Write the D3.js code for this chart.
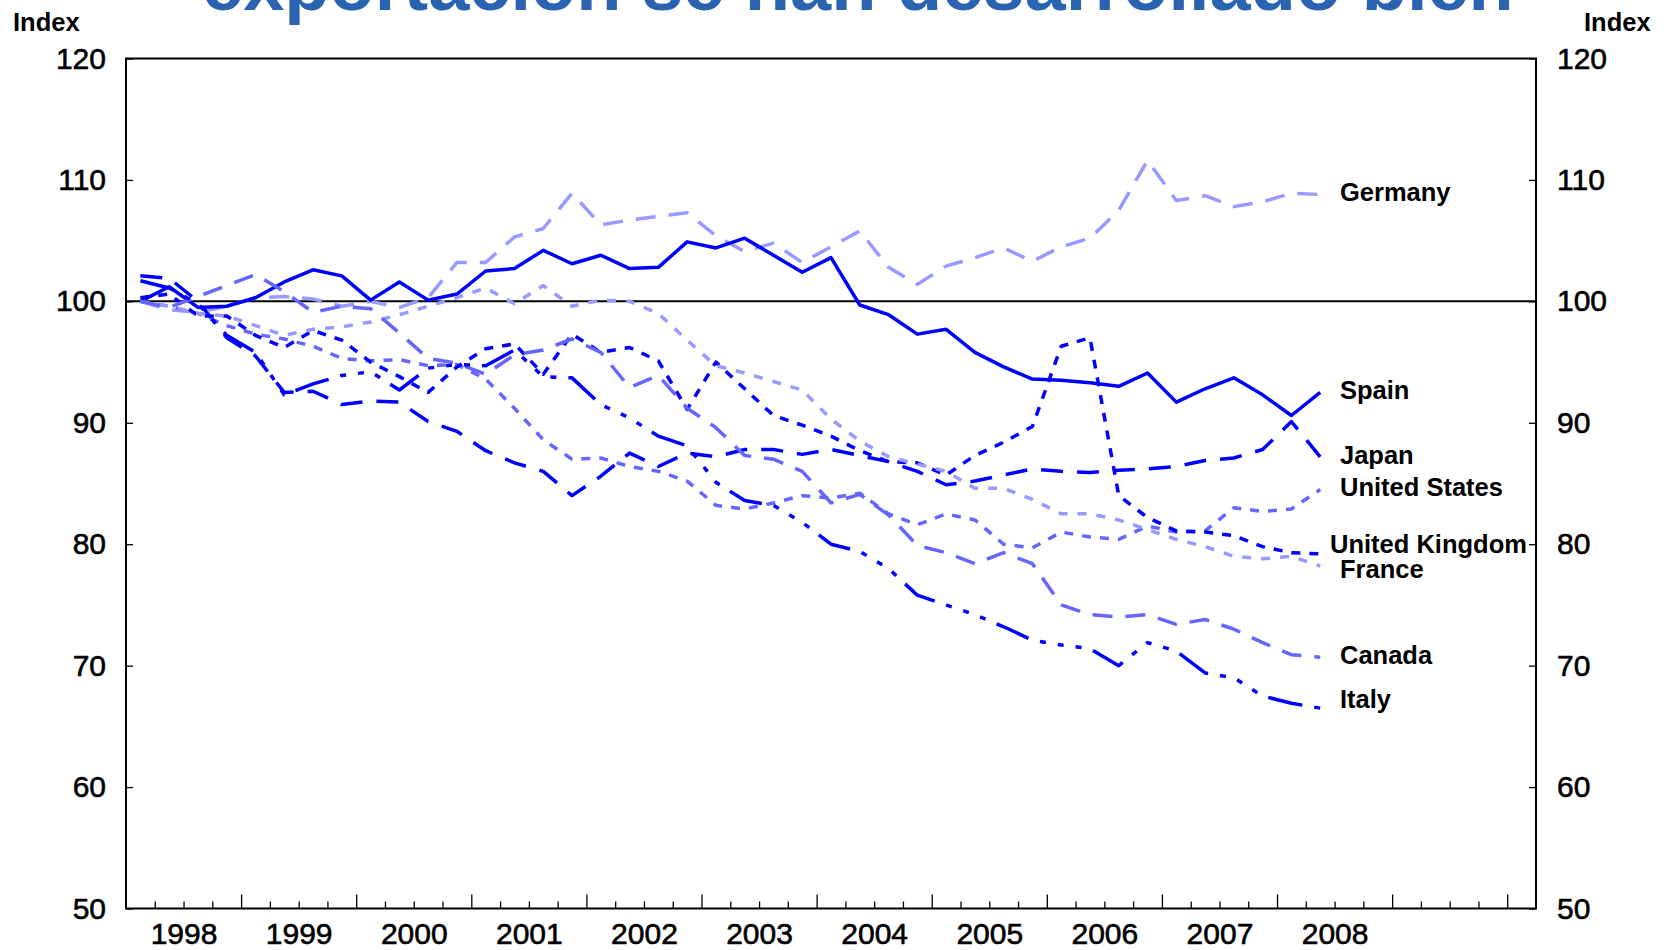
<!DOCTYPE html>
<meta charset="utf-8">
<style>
body { margin: 0; background: #fff; }
text { font-family: "Liberation Sans", Arial, sans-serif; fill: #000; }
.tick line { stroke: #000; stroke-width: 1.3px; }
.tick text { stroke: #000; stroke-width: 0.6px; }
.domain { display: none; }
</style>
<svg width="1669" height="950"></svg>
<script src="https://cdnjs.cloudflare.com/ajax/libs/d3/7.8.5/d3.min.js"></script>
<script>

// quarterly index, 1998 Q1 .. 2008 Q2
var firstYear = 1998;
var yearLabels = ["1998", "1999", "2000", "2001", "2002", "2003", "2004", "2005", "2006", "2007", "2008"];
var yTicks = [50, 60, 70, 80, 90, 100, 110, 120];

var germany = [100.0, 99.3, 99.1, 99.6, 100.3, 100.4, 100.2, 99.6, 100.0, 99.5, 100.3, 103.2, 103.2, 105.3,
  106.0, 108.9, 106.3, 106.7, 107.0, 107.3, 105.4, 104.1, 104.8, 103.2, 104.5, 105.8, 102.8, 101.4,
  102.9, 103.6, 104.4, 103.3, 104.5, 105.2, 107.5, 111.6, 108.3, 108.7, 107.8, 108.2, 108.9, 108.8];
var spain = [100.0, 101.2, 99.5, 99.6, 100.3, 101.6, 102.6, 102.1, 100.1, 101.6, 100.1, 100.6, 102.5, 102.7,
  104.2, 103.1, 103.8, 102.7, 102.8, 104.9, 104.4, 105.2, 103.8, 102.4, 103.6, 99.7, 98.9, 97.3,
  97.7, 95.8, 94.6, 93.6, 93.5, 93.3, 93.0, 94.1, 91.7, 92.8, 93.7, 92.3, 90.6, 92.5];
var japan = [102.1, 101.9, 100.0, 97.0, 95.5, 92.5, 92.6, 91.5, 91.8, 91.7, 90.1, 89.3, 87.7, 86.7,
  86.0, 84.0, 85.6, 87.5, 86.4, 87.5, 87.2, 87.8, 87.8, 87.4, 87.8, 87.3, 86.8, 86.0,
  84.9, 85.2, 85.7, 86.2, 86.0, 85.9, 86.1, 86.2, 86.4, 86.9, 87.1, 87.8, 90.1, 87.2];
var unitedStates = [100.0, 99.6, 99.0, 98.0, 97.3, 96.9, 96.3, 95.3, 95.1, 95.2, 94.7, 94.8, 93.6, 91.2,
  88.6, 87.0, 87.1, 86.4, 86.0, 85.2, 83.2, 82.9, 83.4, 84.0, 83.8, 84.2, 82.5, 81.6,
  82.5, 82.0, 80.0, 79.7, 81.0, 80.6, 80.4, 81.5, 81.0, 81.1, 83.0, 82.7, 82.9, 84.5];
var unitedKingdom = [100.3, 100.6, 98.8, 98.8, 97.2, 96.2, 97.6, 96.8, 95.0, 93.8, 92.5, 94.6, 96.1, 96.5,
  94.0, 97.3, 95.8, 96.2, 95.1, 91.1, 95.0, 92.8, 90.6, 89.8, 88.9, 87.7, 86.8, 86.7,
  85.7, 87.3, 88.4, 89.7, 96.3, 97.0, 84.0, 82.2, 81.1, 81.0, 80.7, 79.8, 79.3, 79.2];
var france = [100.0, 99.6, 99.0, 98.8, 98.0, 97.2, 97.7, 97.9, 98.3, 98.9, 99.6, 100.3, 101.1, 99.8,
  101.3, 99.6, 100.1, 100.0, 99.0, 96.8, 94.7, 94.1, 93.4, 92.7, 90.3, 88.5, 87.2, 86.6,
  86.0, 84.6, 84.6, 83.7, 82.5, 82.5, 82.0, 81.2, 80.4, 79.8, 79.0, 78.8, 79.0, 78.2];
var canada = [100.0, 99.5, 100.4, 101.3, 102.2, 100.8, 99.1, 99.6, 99.4, 97.4, 95.3, 94.9, 94.0, 95.6,
  96.0, 96.9, 95.8, 92.9, 93.9, 91.2, 89.6, 87.3, 87.0, 86.0, 83.4, 84.1, 82.4, 79.9,
  79.3, 78.4, 79.3, 78.4, 75.0, 74.2, 74.0, 74.2, 73.4, 73.8, 73.0, 71.9, 70.9, 70.7];
var italy = [101.7, 101.1, 99.8, 97.2, 95.8, 92.3, 93.2, 93.9, 94.2, 92.7, 94.5, 94.8, 94.7, 96.0,
  93.8, 93.7, 91.5, 90.4, 88.9, 88.1, 85.1, 83.6, 83.2, 81.8, 80.0, 79.4, 78.0, 75.8,
  75.0, 74.2, 73.2, 72.1, 71.7, 71.4, 70.0, 71.9, 71.2, 69.4, 69.0, 67.5, 66.9, 66.5];

var names = ["Germany", "Spain", "Japan", "United States", "United Kingdom", "France", "Canada", "Italy"];
var allValues = [germany, spain, japan, unitedStates, unitedKingdom, france, canada, italy];
// where each end label sits, in index units
var labelAt = [109.0, 92.7, 87.4, 84.7, 80.0, 78.0, 70.9, 67.3];

var colors = ["#9999ff", "#0000ff", "#0000ff", "#6666ff", "#0000ff", "#9999ff", "#6666ff", "#0000ff"];
var dashes = ["20,13", null, "22,14", "9,9", "9,9", "9,10", "20,13", "35,12,6,12,6,12,6,12"];

var svg = d3.select("svg");
var plotL = 126, plotR = 1536, plotT = 58.5, plotB = 908.5;

var x = d3.scaleLinear().domain([firstYear, 2010.25]).range([plotL, plotR]);
var y = d3.scaleLinear().domain([50, 120]).range([plotB, plotT]);

// title, cut by the top edge
svg.append("text")
    .attr("x", 202)
    .attr("y", 10)
    .style("font-size", "74px")
    .style("font-weight", "bold")
    .style("fill", "#2a64b0")
    .text("exportación se han desarrollado bien");

// frame
svg.append("rect")
    .attr("x", plotL).attr("y", plotT)
    .attr("width", plotR - plotL).attr("height", plotB - plotT)
    .attr("fill", "none").attr("stroke", "#000").attr("stroke-width", 2);

// y axes
svg.append("g").attr("transform", "translate(" + plotL + ",0)")
    .call(d3.axisLeft(y).tickValues(yTicks).tickSizeInner(-7).tickSizeOuter(0).tickPadding(20));
svg.append("g").attr("transform", "translate(" + plotR + ",0)")
    .call(d3.axisRight(y).tickValues(yTicks).tickSizeInner(-7).tickSizeOuter(0).tickPadding(21));
svg.selectAll("g.tick text").style("font-size", "30px");

// x axis: quarter ticks and year ticks
var quarterTicks = [], yearTicks = [], yearMid = [];
for (var yy = firstYear; yy <= 2010; yy++) {
  yearTicks.push(yy);
  for (var q = 1; q < 4; q++) quarterTicks.push(yy + q / 4);
}
yearLabels.forEach(function(l) { yearMid.push(+l + 0.5); });

svg.append("g").attr("transform", "translate(0," + plotB + ")")
    .call(d3.axisBottom(x).tickValues(quarterTicks.filter(function(d) { return d < 2010.25; }))
      .tickSizeInner(-7).tickSizeOuter(0).tickFormat(""));
svg.append("g").attr("transform", "translate(0," + plotB + ")")
    .call(d3.axisBottom(x).tickValues(yearTicks.slice(1)).tickSizeInner(-14).tickSizeOuter(0).tickFormat(""));
var xl = svg.append("g").attr("transform", "translate(0," + plotB + ")")
    .call(d3.axisBottom(x).tickValues(yearMid).tickSize(0).tickPadding(14)
      .tickFormat(function(d) { return String(Math.floor(d)); }));
xl.selectAll("text").style("font-size", "30px");

// 100 line
svg.append("line")
    .attr("x1", plotL).attr("x2", plotR)
    .attr("y1", y(100)).attr("y2", y(100))
    .attr("stroke", "#000").attr("stroke-width", 2);

var line = d3.line()
    .x(function(d, i) { return x(firstYear + (i + 0.5) / 4); })
    .y(function(d) { return y(d); });

svg.append("g").selectAll("path")
  .data(allValues)
  .enter().append("path")
    .attr("d", line)
    .attr("fill", "none")
    .attr("stroke", function(d, i) { return colors[i]; })
    .attr("stroke-width", 3.5)
    .attr("stroke-linejoin", "round")
    .attr("stroke-dasharray", function(d, i) { return dashes[i]; });

svg.append("g").selectAll("text")
  .data(names)
  .enter().append("text")
    .attr("x", function(d) { return d === "United Kingdom" ? 1330 : 1340; })
    .attr("y", function(d, i) { return y(labelAt[i]); })
    .attr("dy", "0.36em")
    .style("font-size", "25.5px")
    .style("font-weight", "bold")
    .text(function(d) { return d; });

// axis captions
svg.append("text").attr("x", 13).attr("y", 31)
    .style("font-size", "25.5px").style("font-weight", "bold").text("Index");
svg.append("text").attr("x", 1584).attr("y", 31)
    .style("font-size", "25.5px").style("font-weight", "bold").text("Index");

</script>
